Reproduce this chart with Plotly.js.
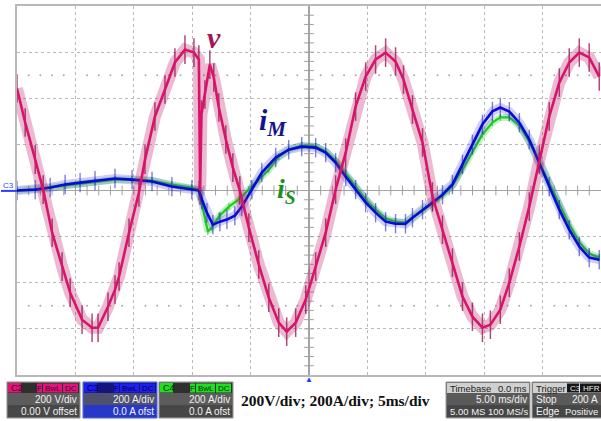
<!DOCTYPE html>
<html>
<head>
<meta charset="utf-8">
<script src="https://cdn.plot.ly/plotly-3.0.1.min.js"></script>
<style>html,body{margin:0;padding:0;background:#fff;}#chart{width:601px;height:421px;}</style>
</head>
<body>
<div id="chart"></div>
<script>
// ---- data (time in ms, values in V or A; 200 per division) ----
const tV = [-25.00,-24.30,-23.44,-22.76,-21.99,-21.14,-20.45,-19.43,-18.57,-18.06,-17.21,-16.61,-16.26,-15.41,-14.56,-14.04,-13.19,-12.33,-11.48,-10.62,-9.85,-9.43,-9.32,-9.21,-8.91,-8.49,-8.15,-7.72,-7.12,-6.52,-5.92,-5.15,-4.30,-3.44,-2.59,-1.91,-1.14,-0.28,0.57,1.43,2.28,3.14,3.99,4.85,5.70,6.56,7.41,8.09,8.86,9.72,10.57,11.43,12.28,13.14,13.99,14.85,15.53,16.38,17.15,18.01,18.86,19.72,20.57,21.43,22.28,23.14,23.99,24.85];
const vVals = [442,295,134,4,-183,-330,-443,-560,-595,-595,-504,-430,-373,-183,-9,134,321,438,555,611,598,568,0,329,416,546,490,360,221,99,0,-161,-321,-465,-573,-612,-573,-473,-330,-183,4,164,364,494,568,598,559,481,351,208,-26,-170,-313,-460,-547,-595,-582,-517,-400,-243,-70,134,321,468,555,598,577,494];

const tM = [-25.00,-23.44,-22.16,-20.88,-19.60,-18.32,-16.61,-15.15,-13.44,-11.74,-10.03,-9.43,-9.17,-8.74,-8.23,-7.63,-7.03,-6.35,-5.75,-4.90,-4.04,-2.85,-1.74,-0.62,0.57,1.43,2.28,3.14,3.99,4.85,5.70,6.56,7.41,8.26,8.86,9.72,10.57,11.43,12.28,13.14,13.99,14.85,15.70,16.38,17.15,18.01,18.86,19.72,20.57,21.43,22.28,23.14,23.99,24.85];
const iM = [0,4,13,26,34,43,52,47,39,17,4,0,-39,-96,-148,-135,-126,-109,-70,4,78,143,177,190,186,164,121,60,4,-52,-96,-135,-144,-144,-118,-83,-52,-18,26,113,200,287,343,360,342,294,221,121,17,-83,-170,-243,-291,-300];

const tS = [-25.00,-23.44,-22.16,-20.88,-19.60,-18.32,-16.61,-15.15,-13.44,-11.74,-10.03,-9.43,-9.17,-8.91,-8.66,-8.32,-7.72,-6.86,-6.01,-5.15,-4.30,-3.44,-2.59,-1.74,-0.62,0.57,1.43,2.28,3.14,3.99,4.85,5.70,6.56,7.41,8.26,8.86,9.72,10.57,11.43,12.28,13.14,13.99,14.85,15.70,16.38,17.15,18.01,18.86,19.72,20.57,21.43,22.28,23.14,23.99,24.85];
const iS = [0,4,13,21,30,39,47,47,43,26,13,4,-61,-126,-178,-161,-113,-70,-39,4,47,91,147,177,195,191,169,130,74,17,-39,-83,-122,-135,-139,-118,-87,-57,-22,21,91,169,243,295,317,317,282,212,121,26,-61,-148,-225,-273,-291];

// switching ripple half-heights
const vRipple = 62;
const mRipple = 42;
const sRipple = 15;

const divX = 5, divY = 200;
const xRange = [-25, 25], yRange = [-800, 800];

// ---- layout helpers (pixel -> paper) ----
const L = 17, T = 6, W = 584, H = 369;
const X = p => (p - L) / W;
const Y = p => (T + H - p) / H;

const shapes = [];
const ann = [];
function rect(x0, y0, x1, y1, fill, line, lw) {
  shapes.push({type:'rect', xref:'paper', yref:'paper', x0:X(x0), x1:X(x1), y0:Y(y0), y1:Y(y1),
    fillcolor: fill, line:{color: line || fill, width: lw === undefined ? 0 : lw}, layer:'above'});
}
function txt(x, y, text, size, color, anchor, fam) {
  ann.push({xref:'paper', yref:'paper', x:X(x), y:Y(y), text:text, showarrow:false,
    xanchor: anchor || 'left', yanchor:'middle', font:{size:size, color:color, family: fam || 'Liberation Sans, Arial, sans-serif'}});
}

// channel boxes
function chanBox(x0, x1, name, col, txtCol, topFill, r2, r3, border, l2, l3) {
  rect(x0, 382, x1, 418, r2, border, 1);
  rect(x0+1, 383, x1-1, 393, topFill);
  rect(x0+1, 405, x1-1, 417, r3);
  rect(x0+1, 383, x0+14, 392.5, col);
  txt(x0+1.5, 388, name, 9, txtCol);
  rect(x1-43, 383.5, x1-38, 392.5, col);
  txt(x1-40.5, 388, 'F', 8, txtCol, 'center');
  rect(x1-37, 383.5, x1-18, 392.5, col);
  txt(x1-27.5, 388, 'BwL', 8, txtCol, 'center');
  rect(x1-17, 383.5, x1-2, 392.5, col);
  txt(x1-9.5, 388, 'DC', 8, txtCol, 'center');
  txt(x1-1, 399.5, l2, 10, '#f2f2f2', 'right');
  txt(x1-1, 411, l3, 10, '#f2f2f2', 'right');
}
chanBox(7, 80, 'C2', '#e0157c', '#4a0026', '#2f2f2f', '#5c5c5c', '#474747', '#8c8c8c', '200 V/div', '0.00 V offset');
chanBox(83, 157, 'C3', '#1f1ff0', '#00004a', '#14147c', '#4f4f6e', '#2638c8', '#3a5cff', '200 A/div', '0.0 A ofst');
chanBox(159, 233, 'C4', '#22dd22', '#003300', '#2f2f2f', '#5c5c5c', '#474747', '#8c8c8c', '200 A/div', '0.0 A ofst');

txt(239, 400, '<b>200V/div; 200A/div; 5ms/div</b>', 15.5, '#111', 'left', 'Liberation Serif, Times New Roman, serif');

// timebase box
rect(446, 382, 530, 418, '#5a5a5a', '#9a9a9a', 1);
rect(447, 383, 529, 393, '#d0d0d0');
rect(447, 405, 529, 417, '#464646');
txt(448, 388, 'Timebase', 9.5, '#222');
txt(529, 388, '0.0 ms', 9.5, '#222', 'right');
txt(529, 399.5, '5.00 ms/div', 10, '#f2f2f2', 'right');
txt(447.5, 411, '5.00 MS', 9.5, '#f2f2f2');
txt(529.5, 411, '100 MS/s', 9.5, '#f2f2f2', 'right');

// trigger box
rect(532, 382, 606, 418, '#5a5a5a', '#9a9a9a', 1);
rect(533, 383, 605, 393, '#d0d0d0');
rect(533, 405, 605, 417, '#464646');
txt(534, 388, 'Trigger', 9.5, '#222');
rect(567, 383.5, 579, 392.5, '#151515');
txt(567.5, 388, 'C3', 8, '#eee');
rect(580, 383.5, 605, 392.5, '#151515');
txt(580.5, 388, 'HFR', 8, '#eee');
txt(534, 399.5, 'Stop', 10, '#f2f2f2');
txt(600, 399.5, '200 A', 10, '#f2f2f2', 'right');
txt(534, 411, 'Edge', 10, '#f2f2f2');
txt(600, 411, 'Positive', 9.5, '#f2f2f2', 'right');

// trigger marker and channel marker
txt(309.3, 379, '▲', 8, '#1a3cff', 'center');
txt(0.5, 185, 'C3', 8, '#2a4cff', 'left');
shapes.push({type:'line', xref:'paper', yref:'paper', x0:X(1), x1:X(17), y0:Y(190.9), y1:Y(190.9), line:{color:'#2a3cff', width:2}});

// trace labels
txt(214, 37, '<b><i>v</i></b>', 30, '#a3155c', 'center', 'Liberation Serif, Times New Roman, serif');
txt(257, 122, '<b><i>i<sub>M</sub></i></b>', 30, '#14148c', 'left', 'Liberation Serif, Times New Roman, serif');
txt(275, 190, '<b><i>i<sub>S</sub></i></b>', 28, '#1e8f1e', 'left', 'Liberation Serif, Times New Roman, serif');

// graticule decorations generated from the division sizes
const tickX = [], tickY0 = [], tickXv = [], tickYv = [], dotX = [], dotY = [];
for (let t = xRange[0] + 1; t < xRange[1]; t += 1) { if (t !== 0) { tickX.push(t); tickY0.push(0); } }
for (let v = yRange[0] + divY/5; v < yRange[1]; v += divY/5) { if (v !== 0) { tickXv.push(0); tickYv.push(v); } }
for (let t = xRange[0] + 1; t < xRange[1]; t += 1) { if (t % divX !== 0) { dotX.push(t, t); dotY.push(2.5*divY, -2.5*divY); } }

const traces = [
  {x: tickX, y: tickY0, mode:'markers', marker:{symbol:'line-ns', size:7, line:{width:1, color:'#a0a0a0'}}, hoverinfo:'skip'},
  {x: tickXv, y: tickYv, mode:'markers', marker:{symbol:'line-ew', size:7, line:{width:1, color:'#a0a0a0'}}, hoverinfo:'skip'},
  {x: dotX, y: dotY, mode:'markers', marker:{symbol:'circle', size:2, color:'#aaaaaa'}, hoverinfo:'skip'},
  // iS
  {x: tS, y: iS, mode:'lines', line:{color:'rgba(40,200,40,0.28)', width:7}, hoverinfo:'skip'},
  {x: tS, y: iS, mode:'lines', line:{color:'#1fcc1f', width:2.2},
    error_y:{type:'constant', value:sRipple, color:'rgba(30,190,30,0.7)', thickness:1.2, width:0}},
  // iM
  {x: tM, y: iM, mode:'lines', line:{color:'rgba(60,60,220,0.25)', width:9}, hoverinfo:'skip'},
  {x: tM, y: iM, mode:'lines', line:{color:'#0a0ad2', width:2.6},
    error_y:{type:'constant', value:mRipple, color:'rgba(40,40,200,0.6)', thickness:1.4, width:0}},
  // v
  {x: tV, y: vVals, mode:'lines', line:{color:'rgba(185,30,100,0.3)', width:12}, hoverinfo:'skip'},
  {x: tV, y: vVals, mode:'lines', line:{color:'#d8146a', width:2.6},
    error_y:{type:'constant', value:vRipple, color:'rgba(150,12,78,0.75)', thickness:1.5, width:0}}
];

const axisCommon = {showgrid:true, gridcolor:'#b9b9b9', griddash:'dot', gridwidth:1,
  zeroline:true, zerolinecolor:'#a4a4a4', zerolinewidth:1.5, showticklabels:false, ticks:'',
  showline:true, mirror:true, linecolor:'#b8b8b8', linewidth:2, fixedrange:true};

const layout = {
  width:601, height:421, margin:{l:L, r:601-L-W, t:T, b:421-T-H},
  paper_bgcolor:'#ffffff', plot_bgcolor:'#ffffff', showlegend:false,
  xaxis: Object.assign({range:xRange, dtick:divX, tick0:0}, axisCommon),
  yaxis: Object.assign({range:yRange, dtick:divY, tick0:0}, axisCommon),
  shapes: shapes, annotations: ann
};

Plotly.newPlot('chart', traces, layout, {staticPlot:true, displayModeBar:false});
</script>
</body>
</html>
